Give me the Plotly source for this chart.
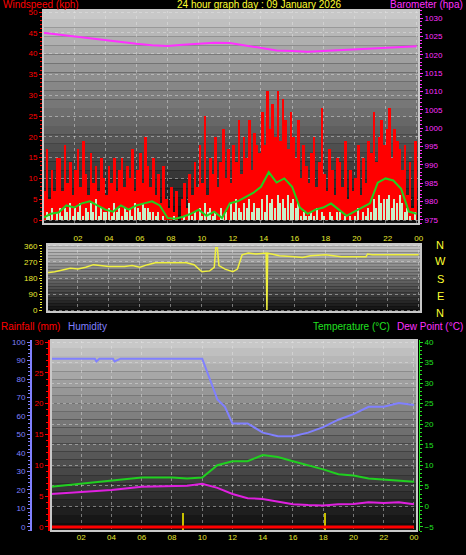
import plotly.graph_objects as go

W, H = 466, 555
hours_ticks = [2,4,6,8,10,12,14,16,18,20,22,24]
tick_labels = ["02","04","06","08","10","12","14","16","18","20","22","00"]

gust = [7,17,5,12,7,15, 15,7,18,9,14,6, 12,17,8,19,11,6, 16,9,13,7,15,10,
        6,13,9,15,7,12, 15,8,13,10,17,7, 12,16,9,20,13,8, 15,6,11,4,13,5,
        3,8,2,7,0,5, 9,3,11,6,14,8, 18,9,25,6,15,11, 20,8,14,22,10,17,
        9,18,14,24,11,20, 15,24,12,21,18,16, 26,18,31,22,28,20, 31,19,29,24,17,26,
        20,15,24,10,18,13, 9,16,20,8,14,27, 11,7,17,12,6,15, 14,8,19,5,12,7,
        10,18,6,15,9,19, 16,26,14,20,24,18, 22,27,15,22,19,17, 12,18,6,14,3,19]
avgwind = [0,2,1,3,0,2, 3,1,3,2,4,1, 3,2,4,1,3,2, 4,2,5,1,3,2, 2,3,1,4,2,3,
           1,3,2,3,1,4, 3,2,4,3,3,2, 2,1,2,0,1,0, 0,0,1,0,0,0, 1,0,4,1,2,0,
           3,1,4,2,3,1, 2,0,3,1,2,0, 4,2,5,3,2,4, 3,5,2,4,3,3, 5,2,6,4,5,3,
           6,4,5,3,6,4, 5,3,4,1,2,1, 1,2,1,3,0,2, 1,0,2,1,0,2, 2,0,1,0,1,0,
           1,3,0,2,1,3, 2,5,3,6,4,5, 5,6,3,5,4,6, 4,2,3,1,0,2]
wind_t = [i/6 + 1/12 for i in range(len(gust))]

avg_line_t = [i*0.5 for i in range(49)]
avg_line = [0.5,1.5,1.8,3.5,3,4,4.5,3.5,2.5,2,3.5,2.5,3.5,4,4.5,3.5,0.5,0.3,0.8,1.5,
            2.5,1,2,0.5,4,4.5,5.5,6.5,8,11.5,9,10,8,3,1.5,2.5,3,4,2.5,1,2,3,4,9,10,9.5,7.5,2,1.5]

press_t = list(range(25))
press = [1026,1025.5,1024.8,1024.3,1024,1023.4,1023,1022.6,1022.4,1022.7,1023,1023.3,1023.2,
         1022.6,1021.9,1021.2,1021.0,1020.8,1021,1021.2,1021.5,1021.6,1021.8,1022.1,1022.3]

dir_t = [0,0.5,1,1.5,2,2.5,3,3.5,4,5,5.5,6,6.5,7,8,9,9.5,10,10.5,10.8,10.9,11.0,11.1,11.5,12,12.3,12.6,
         13,13.5,14,14.15,14.2,14.25,14.5,15,16,16.5,17,18,19,20,20.6,20.7,21,22,23,24]
wdir = [210,215,225,235,230,240,255,250,245,245,250,240,255,265,265,265,255,215,220,240,350,350,250,230,215,230,310,
        320,315,320,320,0,320,315,305,300,295,305,310,300,300,300,315,310,310,310,310]

hum_t = [0,2.9,3,3.2,4.1,4.2,4.6,10,10.5,11,11.5,12,13,14,15,16,17,18,19,20,21,22,23,24]
hum = [91,91,89.5,91,91,89.5,91,91,80,69,65,56,56,51,49,49,51,54,58,61,65,65,67,66]
temp_t = [0,2,4,6,8,9,10,10.5,11,12,13,14,15,16,17,18,19,20,21,22,23,24]
temp = [4.8,5.5,6.3,7,7,6.8,7,8.5,10,11,11,12.5,12,11,10,9,7.8,7.5,6.8,6.5,6.2,6]
dew_t = [0,2,4,6,8,9,10,11,12,13,14,15,16,17,18,19,20,21,22,23,24]
dew = [3,3.5,4,4.8,5,5,5.5,4.5,3,2,1.8,1.2,0.5,0.3,0.2,0.5,0.6,1,0.8,1,0.5]
rain_t = [0,24]
rain = [0,0]
events = [8.7,18.1]

def px(x): return x / W
def py(y): return 1 - y / H

fig = go.Figure()
fig.add_trace(go.Bar(x=wind_t, y=gust, width=1/6, marker=dict(color="#ff0000", line_width=0), xaxis="x", yaxis="y"))
fig.add_trace(go.Bar(x=wind_t, y=avgwind, width=0.09, marker=dict(color="#c8f0c8", line_width=0), xaxis="x", yaxis="y"))
fig.add_trace(go.Scatter(x=avg_line_t, y=avg_line, mode="lines", line=dict(color="#20d020", width=2), xaxis="x", yaxis="y"))
fig.add_trace(go.Scatter(x=press_t, y=press, mode="lines", line=dict(color="#ff30ff", width=2), xaxis="x", yaxis="y2"))
fig.add_trace(go.Scatter(x=dir_t, y=wdir, mode="lines", line=dict(color="#f0f040", width=1.5), xaxis="x2", yaxis="y3"))
fig.add_trace(go.Scatter(x=hum_t, y=hum, mode="lines", line=dict(color="#8080ff", width=2), xaxis="x3", yaxis="y5"))
fig.add_trace(go.Scatter(x=temp_t, y=temp, mode="lines", line=dict(color="#20d020", width=2), xaxis="x3", yaxis="y4"))
fig.add_trace(go.Scatter(x=dew_t, y=dew, mode="lines", line=dict(color="#e020e0", width=2), xaxis="x3", yaxis="y4"))
fig.add_trace(go.Scatter(x=rain_t, y=rain, mode="lines", line=dict(color="#ff0000", width=3), xaxis="x3", yaxis="y6"))
fig.add_trace(go.Bar(x=events, y=[10, 10], base=-2.2, width=0.06, marker=dict(color="#c8c000", line_width=0), xaxis="x3", yaxis="y5"))

shapes = []
def gradient(x0, x1, y0, y1, n=24):
    for i in range(n):
        f = i / (n - 1)
        c = int(200 - f * 185)
        shapes.append(dict(type="rect", xref="paper", yref="paper", layer="below",
                           x0=px(x0), x1=px(x1), y0=py(y0 + (y1 - y0) * i / n), y1=py(y0 + (y1 - y0) * (i + 1) / n),
                           fillcolor=f"rgb({c},{c},{c})", line_width=0))
    shapes.append(dict(type="rect", xref="paper", yref="paper", layer="above",
                       x0=px(x0), x1=px(x1), y0=py(y0), y1=py(y1), line=dict(color="#c8c8c8", width=2)))
gradient(43, 419, 10, 224)
gradient(47, 421, 244, 312)
gradient(51, 417, 340, 531)

tickf = dict(family="Liberation Sans, Arial", size=8)
grid = dict(showgrid=True, gridcolor="rgba(230,230,230,0.45)", griddash="dot", gridwidth=1)
def xax(d, side="bottom", rng=(0, 24.15), show=True):
    return dict(domain=d, range=list(rng), tickvals=hours_ticks, ticktext=tick_labels, side=side,
                showticklabels=show, automargin=False,
                tickfont=dict(color="#e8e830", **tickf), showline=False, zeroline=False, ticks="", **grid)
def yax(color, minor_dtick, **kw):
    d = dict(tickfont=dict(color=color, **tickf), ticks="outside", ticklen=3, tickcolor=color,
             minor=dict(dtick=minor_dtick, ticks="outside", ticklen=2, tickcolor=color),
             zeroline=False, automargin=False)
    d.update(kw)
    return d
fig.update_layout(
    width=W, height=H, margin=dict(l=0, r=0, t=0, b=0), paper_bgcolor="black", plot_bgcolor="rgba(0,0,0,0)",
    showlegend=False, barmode="overlay", bargap=0,
    xaxis=dict(anchor="y", **xax([px(43), px(419)], show=False)),
    xaxis2=dict(anchor="y3", **xax([px(47), px(421)], side="top")),
    xaxis3=dict(anchor="y4", **xax([px(51), px(417)], rng=(0, 24.2))),
    yaxis=yax("#ff0000", 1, domain=[py(224), py(10)], range=[-0.96, 50.5], tickvals=list(range(0, 51, 5)), **grid),
    yaxis2=yax("#ff30ff", 1, overlaying="y", side="right", range=[973.9, 1032.2],
               tickvals=list(range(975, 1031, 5)), showgrid=False),
    yaxis3=yax("#e8e830", 15, domain=[py(312), py(244)], range=[-11, 371], tickvals=[0, 90, 180, 270, 360], **grid),
    yaxis4=yax("#20e020", 1, domain=[py(531), py(340)], side="right", range=[-6, 40.5],
               tickvals=list(range(-5, 41, 5)), showline=True, linecolor="#20e020", **grid),
    yaxis5=yax("#8080ff", 2, overlaying="y4", anchor="free", position=px(31), side="left", range=[-2.2, 101.1],
               tickvals=list(range(0, 101, 10)), showline=True, linecolor="#8080ff", linewidth=2, showgrid=False),
    yaxis6=yax("#ff0000", 1, overlaying="y4", anchor="free", position=px(49), side="left", range=[-0.66, 30.33],
               tickvals=list(range(0, 31, 5)), showline=True, linecolor="#ff0000", linewidth=2, showgrid=False),
    shapes=shapes,
)

def ann(text, x, y, color, xanchor="left", size=10):
    fig.add_annotation(text=text, x=px(x), y=py(y), xref="paper", yref="paper", showarrow=False,
                       xanchor=xanchor, yanchor="middle", borderpad=0,
                       font=dict(color=color, family="Liberation Sans, Arial", size=size))
ann("Windspeed (kph)", 2, 4, "#ff0000")
ann("24 hour graph day : 09 January 2026", 259, 4, "#ffff30", "center")
ann("Barometer (hpa)", 464, 4, "#ff30ff", "right")
ann("Rainfall (mm)", 0, 326, "#ff0000")
ann("Humidity", 67, 326, "#8080ff")
ann("Temperature (°C)", 312, 326, "#20e020")
ann("Dew Point (°C)", 464, 326, "#ff30ff", "right")
for lab, yy in zip(["N", "W", "S", "E", "N"], [245, 261, 279, 296, 313]):
    ann(lab, 440, yy, "#ffff30", "center", 11)

fig.write_html("out.html", config={"displayModeBar": False},
               post_script="document.body.style.margin='0';document.body.style.overflow='hidden';document.body.style.background='black';")
